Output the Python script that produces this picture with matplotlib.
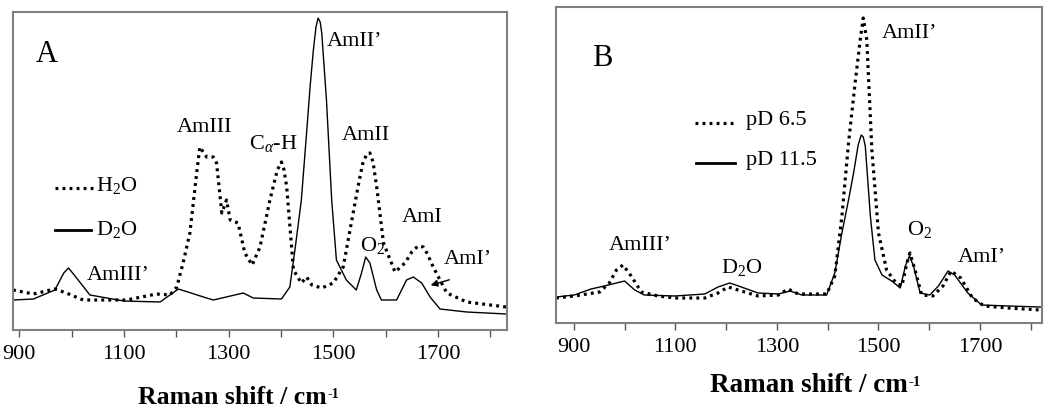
import matplotlib
matplotlib.use("Agg")
import matplotlib.pyplot as plt
import numpy as np

plt.rcParams['font.family'] = ['Liberation Serif', 'DejaVu Serif']
plt.rcParams['mathtext.fontset'] = 'custom'
plt.rcParams['mathtext.rm'] = 'Liberation Serif'
plt.rcParams['mathtext.it'] = 'Liberation Serif:italic'
plt.rcParams['mathtext.bf'] = 'Liberation Serif:bold'

# ---- Panel A data ----
a_d2o_x = [888, 927, 968, 985, 994, 1005, 1035, 1100, 1169, 1204, 1258, 1271, 1328, 1347, 1401, 1417,
           1428, 1439, 1449, 1456, 1462, 1467, 1471, 1475, 1478, 1487, 1497, 1506, 1525, 1544, 1554, 1562, 1570,
           1583, 1592, 1621, 1640, 1653, 1669, 1685, 1704, 1755, 1831]
a_d2o_y = [30, 31, 40, 57, 62, 55, 35, 29, 28, 41, 32, 30, 37, 32, 31, 43,
           85, 130, 197, 245, 280, 303, 312, 308, 297, 230, 130, 70, 50, 40, 57, 73, 67,
           40, 30, 30, 50, 53, 47, 33, 21, 18, 16]
a_h2o_x = [888, 927, 968, 990, 1022, 1054, 1105, 1162, 1188, 1201, 1213, 1226, 1239, 1245,
           1258, 1271, 1277, 1287, 1296, 1303, 1318, 1331, 1345, 1360, 1379, 1393, 1401, 1406, 1411,
           1424, 1439, 1449, 1459, 1478, 1500, 1519, 1538, 1548, 1556, 1564, 1570, 1576, 1583, 1596, 1618,
           1637, 1650, 1662, 1672, 1680, 1691, 1717, 1755, 1831]
a_h2o_y = [40, 36, 41, 37, 30, 30, 30, 36, 35, 43, 67, 97, 157, 183,
           173, 173, 167, 117, 130, 110, 107, 77, 65, 83, 130, 160, 168, 160, 143,
           60, 47, 53, 45, 42, 47, 63, 117, 145, 166, 176, 177, 168, 143, 87, 58,
           67, 78, 84, 83, 76, 63, 37, 28, 23]

# ---- Panel B data ----
b_115_x = [865, 901, 934, 960, 1000, 1020, 1039, 1099, 1158, 1184, 1207, 1230, 1263, 1303,
           1326, 1349, 1398, 1414, 1428, 1441, 1451, 1460, 1466, 1470, 1474, 1484, 1493, 1507, 1526,
           1543, 1553, 1561, 1569, 1582, 1601, 1618, 1637, 1650, 1676, 1703, 1756, 1819]
b_115_y = [26, 28, 34, 37, 42, 33, 28, 27, 29, 36, 40, 36, 30, 29,
           32, 28, 28, 50, 90, 123, 150, 178, 188, 186, 177, 107, 63, 48, 42,
           35, 57, 67, 57, 30, 28, 37, 52, 48, 30, 18, 17, 16]
b_65_x = [865, 901, 951, 970, 984, 997, 1013, 1033, 1066, 1099, 1158, 1184, 1204, 1230, 1263,
          1303, 1322, 1342, 1398, 1414, 1428, 1441, 1454, 1464, 1470, 1477, 1487, 1500,
          1516, 1533, 1546, 1556, 1562, 1572, 1585, 1607, 1627, 1643, 1662, 1685, 1708,
          1756, 1819]
b_65_y = [25, 27, 31, 40, 53, 58, 47, 31, 27, 25, 25, 30, 36, 32, 27,
          28, 34, 29, 29, 47, 107, 180, 240, 283, 305, 283, 173, 90,
          53, 41, 37, 60, 70, 53, 28, 27, 37, 52, 45, 25, 17,
          15, 13]

tick_vals = [900, 1000, 1100, 1200, 1300, 1400, 1500, 1600, 1700, 1800]
tick_labels = ['900', '', '1100', '', '1300', '', '1500', '', '1700', '']

W, H = 1050, 416
fig = plt.figure(figsize=(W / 100, H / 100), dpi=100)

def fpos(l, t, r, b):
    return [l / W, 1 - b / H, (r - l) / W, (b - t) / H]

axA = fig.add_axes(fpos(13, 12, 507, 330))
axB = fig.add_axes(fpos(556, 7, 1042, 323))

dot = (0, (0.9, 1.3))
axA.plot(a_h2o_x, a_h2o_y, color='black', lw=2.3, linestyle=dot)
axA.plot(a_d2o_x, a_d2o_y, color='black', lw=1.0)
axA.set_xlim(888, 1832)
axA.set_ylim(0, 318)

axB.plot(b_65_x, b_65_y, color='black', lw=2.3, linestyle=dot)
axB.plot(b_115_x, b_115_y, color='black', lw=1.0)
axB.set_xlim(865, 1822)
axB.set_ylim(0, 316)

for ax in (axA, axB):
    ax.set_yticks([])
    ax.set_xticks(tick_vals)
    ax.set_xticklabels(tick_labels, fontsize=16)
    ax.tick_params(axis='x', direction='out', length=5, width=1, color='#555555', pad=6)
    for s in ax.spines.values():
        s.set_color('#808080')
        s.set_linewidth(1.5)

def ftext(x, y, s, size=16, ha='center', **kw):
    return fig.text(x / W, 1 - y / H, s, fontsize=size, ha=ha, va='center', **kw)

# x-axis labels with small superscript
fig.canvas.draw()
renderer = fig.canvas.get_renderer()
for (x0, yc, fs) in [(138, 398, 18.5), (710, 386, 19.5)]:
    t = fig.text(x0 / W, 1 - yc / H, 'Raman shift / cm', fontsize=fs, fontweight='bold',
                 ha='left', va='center')
    bb = t.get_window_extent(renderer=renderer)
    fig.text((bb.x1 + 1) / W, (bb.y1 - 2) / (H), '-1', fontsize=fs * 0.55, fontweight='bold',
             ha='left', va='top')

# Panel A annotations
ftext(47, 55, 'A', size=22)
ftext(205, 127, 'AmIII')
ftext(273, 143, 'C$_{\\alpha}$-H')
ftext(355, 42, 'AmII\u2019')
ftext(366, 135, 'AmII')
ftext(373, 245, 'O$_2$')
ftext(422, 218, 'AmI')
ftext(468, 260, 'AmI\u2019')
ftext(118, 275, 'AmIII\u2019')
fig.add_artist(matplotlib.patches.FancyArrowPatch(
    (452 / W, 1 - 279 / H), (428 / W, 1 - 286 / H), transform=fig.transFigure,
    arrowstyle='-|>', mutation_scale=10, lw=1, color='black'))
# legend A
fig.add_artist(matplotlib.lines.Line2D([55 / W, 93 / W], [1 - 188 / H] * 2, transform=fig.transFigure,
                                       color='black', lw=2.3, linestyle=dot))
fig.add_artist(matplotlib.lines.Line2D([55 / W, 91 / W], [1 - 230 / H] * 2, transform=fig.transFigure,
                                       color='black', lw=2.0))
ftext(96, 186, 'H$_2$O', ha='left')
ftext(96, 229, 'D$_2$O', ha='left')

# Panel B annotations
ftext(602, 58, 'B', size=22)
ftext(910, 33, 'AmII\u2019')
ftext(640, 245, 'AmIII\u2019')
ftext(742, 267, 'D$_2$O')
ftext(920, 230, 'O$_2$')
ftext(982, 257, 'AmI\u2019')
fig.add_artist(matplotlib.lines.Line2D([695 / W, 735 / W], [1 - 123 / H] * 2, transform=fig.transFigure,
                                       color='black', lw=2.3, linestyle=dot))
fig.add_artist(matplotlib.lines.Line2D([696 / W, 735 / W], [1 - 163 / H] * 2, transform=fig.transFigure,
                                       color='black', lw=2.0))
ftext(746, 121, 'pD 6.5', ha='left')
ftext(746, 160, 'pD 11.5', ha='left')

fig.savefig('out.png', dpi=100)
